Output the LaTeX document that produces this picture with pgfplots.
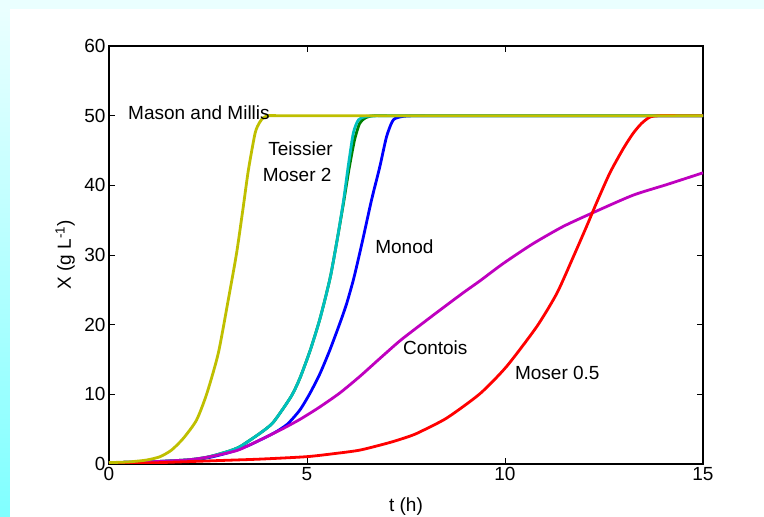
\documentclass[border=0pt]{standalone}
\usepackage{pgfplots}
\pgfplotsset{compat=1.18}
\usepackage{fontspec}
\setmainfont{Liberation Sans}
\definecolor{cMM}{RGB}{191,191,0}
\definecolor{cMos2}{RGB}{0,191,191}
\definecolor{cTei}{RGB}{0,128,0}
\definecolor{cMon}{RGB}{0,0,255}
\definecolor{cCon}{RGB}{191,0,191}
\definecolor{cMos05}{RGB}{255,0,0}
\definecolor{bgtop}{RGB}{234,255,255}
\definecolor{bgstrip}{RGB}{128,255,255}
\begin{document}
\begin{tikzpicture}[font=\fontsize{19}{22}\selectfont]
\useasboundingbox (0pt,0pt) rectangle (764pt,517pt);
\fill[bgtop] (0pt,0pt) rectangle (764pt,517pt);
\shade[top color=bgtop, bottom color=bgstrip] (0pt,0pt) rectangle (10pt,508pt);
\fill[white] (10pt,0pt) rectangle (764pt,508pt);
\begin{axis}[
  at={(109pt,53pt)}, anchor=south west,
  scale only axis, width=594pt, height=418pt,
  xmin=0, xmax=15, ymin=0, ymax=60,
  xtick={0,5,10,15}, ytick={0,10,20,30,40,50,60},
  tick align=inside, major tick length=6pt,
  axis line style={line width=1.1pt, black},
  every tick/.style={black, line width=1pt},
  /pgf/number format/assume math mode=true,
  xlabel={t (h)}, ylabel={X (g L\textsuperscript{-1})},
  x label style={at={(axis description cs:0.5,-0.103)}, anchor=center},
  y label style={at={(axis description cs:-0.074,0.5)}, anchor=center},
  every axis plot/.append style={line width=2.8pt, line join=round, mark=none, smooth, tension=0.4},
]
% Monod
\addplot[cMon] coordinates {
(0,0.2) (1,0.3) (2,0.55) (2.5,0.9) (3,1.6) (3.5,2.6) (4.15,4.4) (4.5,5.7)
(4.82,7.75) (5.08,10.2) (5.33,13.0) (5.58,16.4) (5.83,20.2) (6.0,23.0)
(6.17,26.4) (6.30,29.5) (6.42,32.5) (6.63,37.9) (6.84,42.7) (7.01,47.0)
(7.18,49.4) (7.43,49.9) (7.8,50) (8.5,50) (15,50)};
% Teissier
\addplot[cTei] coordinates {
(0,0.2) (1,0.3) (2,0.6) (2.5,1.0) (3,1.8) (3.31,2.5) (3.81,4.4) (4.15,6.0)
(4.6,9.7) (4.82,12.3) (5.08,16.3) (5.33,20.9) (5.58,26.6) (5.75,31.8)
(5.92,37.4) (6.06,42.3) (6.20,46.5) (6.33,48.9) (6.48,49.7) (6.7,50) (7.4,50) (15,50)};
% Moser 2
\addplot[cMos2] coordinates {
(0,0.2) (1,0.3) (2,0.6) (2.5,1.0) (3,1.8) (3.31,2.5) (3.81,4.4) (4.15,6.0)
(4.6,9.7) (4.82,12.3) (5.08,16.3) (5.33,20.9) (5.58,26.6) (5.75,31.8)
(5.92,37.7) (6.04,42.7) (6.17,47.5) (6.30,49.4) (6.5,49.9) (7.0,50) (7.7,50) (15,50)};
% Contois
\addplot[cCon] coordinates {
(0,0.2) (1,0.3) (2,0.6) (2.5,1.0) (3,1.6) (3.31,2.1) (3.98,3.9) (4.4,5.1)
(4.82,6.4) (5.3,8.1) (5.83,10.2) (6.34,12.6) (6.85,15.2) (7.35,17.7)
(7.85,19.9) (8.36,22.1) (8.95,24.6) (9.37,26.3) (9.96,28.8) (10.7,31.6)
(11.47,34.1) (12.27,36.2) (13.24,38.6) (14.08,40.1) (15,41.8)};
% Moser 0.5
\addplot[cMos05] coordinates {
(0,0.1) (1,0.15) (1.79,0.3) (2.8,0.5) (3.81,0.7) (4.99,1.05) (5.7,1.5)
(6.34,2.0) (7.1,3.1) (7.6,4.0) (7.85,4.6) (8.53,6.6) (9.37,10.1)
(10.04,14.0) (10.80,19.7) (11.31,24.5) (11.73,29.8) (12.06,34.1)
(12.32,37.6) (12.65,41.8) (12.99,45.3) (13.24,47.5) (13.45,48.9)
(13.66,49.8) (13.9,50) (14.4,50) (15,50)};
% Mason and Millis
\addplot[cMM] coordinates {
(0,0.2) (0.5,0.3) (0.95,0.57) (1.29,1.05) (1.58,2.0) (1.88,3.7) (2.21,6.3)
(2.47,10.1) (2.76,15.9) (3.01,23.5) (3.22,30.2) (3.39,36.9) (3.52,42.2)
(3.69,47.5) (3.80,49.0) (3.90,49.7) (4.07,50.0) (4.7,50.0) (15,50.0)};
\node[anchor=west, inner sep=0pt] at (axis cs:0.48,50.4) {Mason and Millis};
\node[anchor=west, inner sep=0pt] at (axis cs:4.02,45.3) {Teissier};
\node[anchor=west, inner sep=0pt] at (axis cs:3.88,41.5) {Moser 2};
\node[anchor=west, inner sep=0pt] at (axis cs:6.72,31.2) {Monod};
\node[anchor=west, inner sep=0pt] at (axis cs:7.42,16.65) {Contois};
\node[anchor=west, inner sep=0pt] at (axis cs:10.25,13.0) {Moser 0.5};
\end{axis}
\end{tikzpicture}
\end{document}
